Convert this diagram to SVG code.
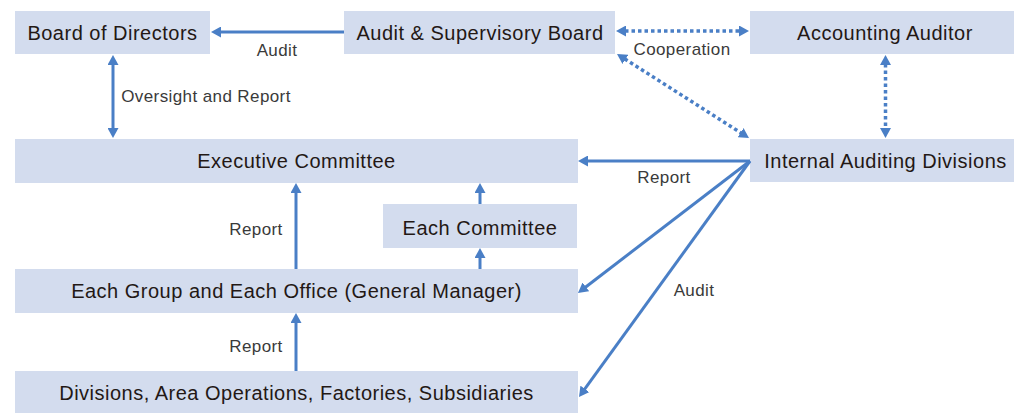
<svg xmlns="http://www.w3.org/2000/svg" width="1014" height="413" viewBox="0 0 1014 413">
<defs>
<style>
.box{fill:#D3DCEE;}
.t{font-family:"Liberation Sans",Arial,sans-serif;font-size:20px;letter-spacing:0.5px;fill:#231815;text-anchor:middle;}
.l{font-family:"Liberation Sans",Arial,sans-serif;font-size:17px;letter-spacing:0.4px;fill:#3a3a3a;text-anchor:middle;}
.c{stroke:#4A7FC6;stroke-width:3;fill:none;}
.d{stroke:#4A7FC6;stroke-width:3.5;fill:none;stroke-dasharray:3.5 3;}
</style>
<marker id="ah" viewBox="0 0 10 11" markerWidth="10" markerHeight="11" refX="1" refY="5.5" orient="auto-start-reverse" markerUnits="userSpaceOnUse">
<path d="M0,0 L10,5.5 L0,11 Z" fill="#4A7FC6"/>
</marker>
</defs>
<rect width="1014" height="413" fill="#FFFFFF"/>
<g id="board-of-directors"><rect class="box" x="15" y="11" width="195" height="43"/><text class="t" x="112.5" y="39.5">Board of Directors</text></g>
<g id="audit-supervisory-board"><rect class="box" x="344" y="11" width="271" height="43"/><text class="t" x="480" y="39.5">Audit &amp; Supervisory Board</text></g>
<g id="accounting-auditor"><rect class="box" x="750" y="11" width="264" height="43"/><text class="t" x="885" y="39.5">Accounting Auditor</text></g>
<g id="internal-auditing-divisions"><rect class="box" x="750" y="139" width="264" height="43"/><text class="t" x="885.5" y="168">Internal Auditing Divisions</text></g>
<g id="executive-committee"><rect class="box" x="15" y="139" width="563" height="44"/><text class="t" x="296.5" y="168">Executive Committee</text></g>
<g id="each-committee"><rect class="box" x="383" y="204" width="194" height="44"/><text class="t" x="480" y="235">Each Committee</text></g>
<g id="each-group"><rect class="box" x="15" y="269" width="563" height="44"/><text class="t" x="296.5" y="298">Each Group and Each Office (General Manager)</text></g>
<g id="divisions"><rect class="box" x="15" y="371" width="563" height="42"/><text class="t" x="296.5" y="400">Divisions, Area Operations, Factories, Subsidiaries</text></g>
<g id="connectors">
<line class="c" x1="344" y1="32" x2="220" y2="32" marker-end="url(#ah)"/>
<text class="l" x="277" y="56">Audit</text>
<line class="c" x1="113" y1="64" x2="113" y2="129" marker-start="url(#ah)" marker-end="url(#ah)"/>
<text class="l" x="206" y="102">Oversight and Report</text>
<line class="d" x1="625" y1="31" x2="740" y2="31" marker-start="url(#ah)" marker-end="url(#ah)"/>
<text class="l" x="682" y="55">Cooperation</text>
<line class="d" x1="624.6" y1="58.8" x2="741.4" y2="133.2" marker-start="url(#ah)" marker-end="url(#ah)"/>
<line class="d" x1="885.5" y1="64" x2="885.5" y2="129" marker-start="url(#ah)" marker-end="url(#ah)"/>
<line class="c" x1="750" y1="161" x2="587" y2="161" marker-end="url(#ah)"/>
<text class="l" x="664" y="183">Report</text>
<line class="c" x1="750" y1="161" x2="585.1" y2="287.5" marker-end="url(#ah)"/>
<line class="c" x1="750" y1="161" x2="584.3" y2="389.7" marker-end="url(#ah)"/>
<text class="l" x="694" y="296">Audit</text>
<line class="c" x1="296" y1="269" x2="296" y2="192" marker-end="url(#ah)"/>
<text class="l" x="256" y="235">Report</text>
<line class="c" x1="480" y1="204" x2="480" y2="192" marker-end="url(#ah)"/>
<line class="c" x1="480" y1="269" x2="480" y2="257" marker-end="url(#ah)"/>
<line class="c" x1="296" y1="371" x2="296" y2="322" marker-end="url(#ah)"/>
<text class="l" x="256" y="352">Report</text>
</g>
</svg>
